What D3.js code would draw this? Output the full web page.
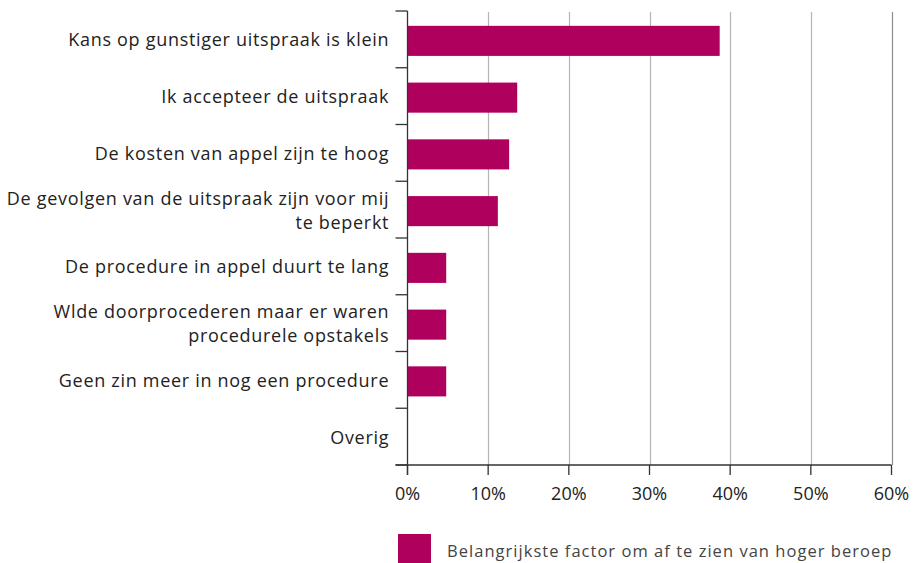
<!DOCTYPE html>
<html><head><meta charset="utf-8">
<script src="https://cdn.jsdelivr.net/npm/d3@7"></script>
<style>
body{margin:0;background:#fff;}
svg{display:block;font-family:"Open Sans",Lato,sans-serif;}
</style></head>
<body><svg id="c" width="914" height="563"></svg>
<script>
const categories = [
  "Kans op gunstiger uitspraak is klein",
  "Ik accepteer de uitspraak",
  "De kosten van appel zijn te hoog",
  "De gevolgen van de uitspraak zijn voor mij\nte beperkt",
  "De procedure in appel duurt te lang",
  "Wlde doorprocederen maar er waren\nprocedurele opstakels",
  "Geen zin meer in nog een procedure",
  "Overig"
];
const values = [38.7, 13.6, 12.6, 11.2, 4.8, 4.8, 4.8, 0];
const xTicks = [0, 10, 20, 30, 40, 50, 60];
const seriesName = "Belangrijkste factor om af te zien van hoger beroep";

(function(){
const svg = d3.select("#c");
const L = 407.5, R = 891.5, T = 11, B = 465;
const x = d3.scaleLinear().domain([0, 60]).range([L, R]);
const y = d3.scaleBand().domain(categories).range([T, B]).paddingInner(0.47).paddingOuter(0.235);
const yb = d3.scaleBand().domain(categories).range([T, B]);
const color = "#b0005e";

// gridlines
svg.append("g").selectAll("line").data(xTicks.filter(d => d > 0)).join("line")
  .attr("x1", d => Math.round(x(d)) + 0.5).attr("x2", d => Math.round(x(d)) + 0.5)
  .attr("y1", T + 1).attr("y2", B)
  .attr("stroke", d => d === 60 ? "#8c8c8c" : "#b4b4b4").attr("stroke-width", 1.2);

// bars
svg.append("g").selectAll("rect").data(values).join("rect")
  .attr("x", x(0))
  .attr("y", (d, i) => y(categories[i]) + 1.5)
  .attr("width", d => x(d) - x(0))
  .attr("height", y.bandwidth())
  .attr("fill", color);

// y axis line and ticks
const ax = svg.append("g").attr("stroke", "#333").attr("stroke-width", 1.3);
ax.append("line").attr("x1", L).attr("x2", L).attr("y1", T).attr("y2", B + 10);
const bounds = categories.map(c => yb(c)).concat([B]);
ax.selectAll(".yt").data(bounds).join("line").attr("class", "yt")
  .attr("x1", L - 12).attr("x2", L).attr("y1", d => d).attr("y2", d => d);
// x axis
ax.append("line").attr("x1", L - 12).attr("x2", R).attr("y1", B).attr("y2", B);
ax.selectAll(".xt").data(xTicks).join("line").attr("class", "xt")
  .attr("x1", d => x(d)).attr("x2", d => x(d)).attr("y1", B).attr("y2", B + 10);

// x tick labels
svg.append("g").selectAll("text").data(xTicks).join("text")
  .attr("x", d => x(d)).attr("y", 500)
  .attr("text-anchor", "middle").attr("font-size", 18).attr("fill", "#222")
  .text(d => d + "%");

// y labels
const yl = svg.append("g").selectAll("text").data(categories).join("text")
  .attr("text-anchor", "end").attr("font-size", 18).attr("fill", "#222")
  .attr("letter-spacing", 0.7);
yl.each(function(c) {
  const lines = c.split("\n");
  const cy = yb(c) + yb.bandwidth() / 2;
  const t = d3.select(this);
  lines.forEach((ln, k) => {
    t.append("tspan").attr("x", L - 18.3)
      .attr("y", cy + 7 + (k - (lines.length - 1) / 2) * 24)
      .text(ln);
  });
});

// legend
svg.append("rect").attr("x", 398).attr("y", 534).attr("width", 33).attr("height", 29).attr("fill", color);
svg.append("text").attr("x", 447).attr("y", 557).attr("font-size", 16.5).attr("fill", "#444")
  .attr("letter-spacing", 1.03).text(seriesName);
})();
</script></body></html>
